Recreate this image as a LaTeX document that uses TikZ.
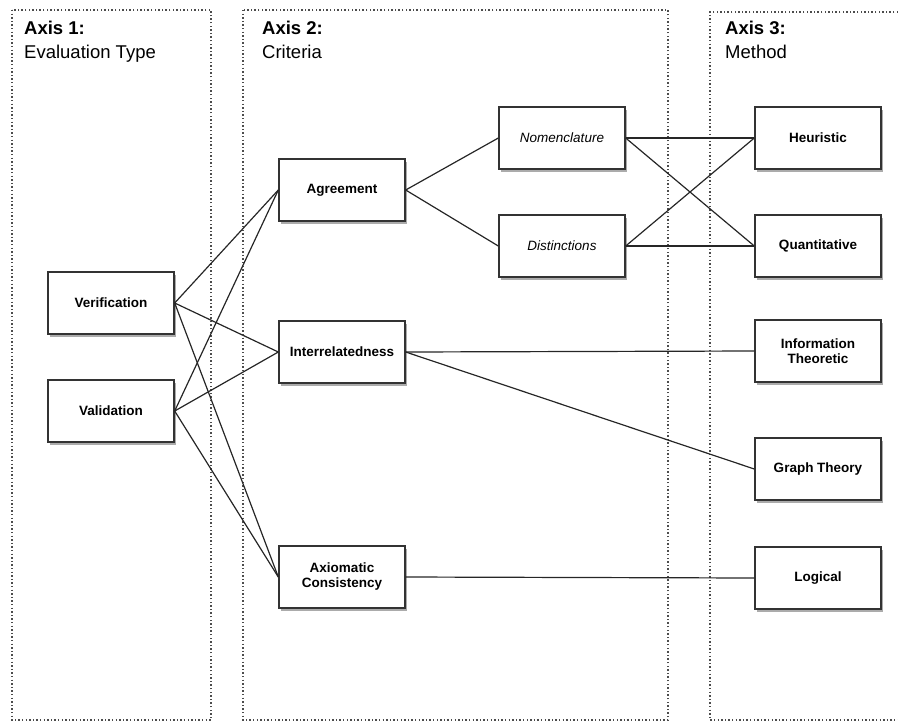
\documentclass[tikz,border=0pt]{standalone}
\usepackage{fontspec}
\setmainfont{Liberation Sans}
\usetikzlibrary{shadows}

\begin{document}
\begin{tikzpicture}[
  x=1pt, y=-1pt,
  box/.style={draw=black!80, line width=1.4pt, fill=white, minimum width=126pt, minimum height=62pt,
    align=center, inner sep=2pt, font=\fontsize{13.5}{15}\selectfont\bfseries,
    drop shadow={shadow xshift=1.8pt, shadow yshift=-2.5pt, fill=black!60, opacity=0.55}},
  sub/.style={box, font=\fontsize{13.5}{15}\selectfont\itshape},
  axis/.style={draw=black!70, line width=1.2pt, dash pattern=on 1.4pt off 2.2pt},
  title/.style={anchor=north west, inner sep=0pt, align=left, font=\fontsize{18.5}{24}\selectfont},
  link/.style={draw=black!85, line width=1.2pt}
]
\useasboundingbox (0,0) rectangle (898,724);

% Axis frames
\draw[axis] (12,10) rectangle (211,720);
\draw[axis] (243,10) rectangle (668,720);
\draw[axis] (898,12) -- (710,12) -- (710,720) -- (898,720);

\node[title] (ax1) at (24,21) {\textbf{Axis 1:}\\Evaluation Type};
\node[title] (ax2) at (262,21) {\textbf{Axis 2:}\\Criteria};
\node[title] (ax3) at (725,21) {\textbf{Axis 3:}\\Method};

% Axis 1: evaluation type
\node[box] (ver) at (111,303) {Verification};
\node[box] (val) at (111,411) {Validation};

% Axis 2: criteria
\node[box] (agr) at (342,190) {Agreement};
\node[box] (inter) at (342,352) {Interrelatedness};
\node[box] (axio) at (342,577) {Axiomatic\\Consistency};
\node[sub] (nom) at (562,138) {Nomenclature};
\node[sub] (dist) at (562,246) {Distinctions};

% Axis 3: method
\node[box] (heur) at (818,138) {Heuristic};
\node[box] (quant) at (818,246) {Quantitative};
\node[box] (info) at (818,351) {Information\\Theoretic};
\node[box] (graph) at (818,469) {Graph Theory};
\node[box] (logic) at (818,578) {Logical};

% Links
\foreach \a in {ver,val}
  \foreach \b in {agr,inter,axio}
    \draw[link] (\a.east) -- (\b.west);
\foreach \b in {nom,dist}
  \draw[link] (agr.east) -- (\b.west);
\foreach \a in {nom,dist}
  \foreach \b in {heur,quant}
    \draw[link] (\a.east) -- (\b.west);
\draw[link] (inter.east) -- (info.west);
\draw[link] (inter.east) -- (graph.west);
\draw[link] (axio.east) -- (logic.west);

\end{tikzpicture}
\end{document}
